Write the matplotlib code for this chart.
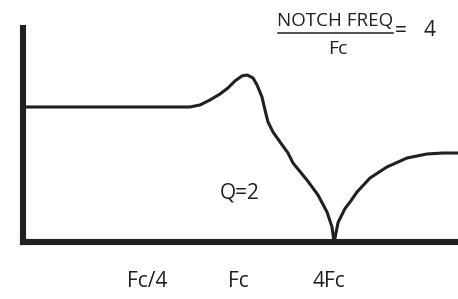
import matplotlib
matplotlib.use("Agg")
import matplotlib.pyplot as plt
from matplotlib.lines import Line2D

plt.rcParams['font.family'] = ['Open Sans', 'DejaVu Sans']

# Response curve, x in octaves relative to Fc, y relative to passband level
curve_left_x = [-4.725, -2.5, -1.495, -1.055, -0.835, -0.615, -0.396, -0.220, -0.066,
                0.088, 0.198, 0.330, 0.418, 0.527, 0.593, 0.659, 0.769, 0.923,
                1.099, 1.209, 1.516, 1.758, 1.956, 2.066, 2.110]
curve_left_y = [1.0, 1.0, 1.0, 1.0, 1.015, 1.052, 1.096, 1.141, 1.193,
                1.230, 1.237, 1.215, 1.163, 1.074, 0.978, 0.889, 0.815, 0.741,
                0.659, 0.585, 0.459, 0.348, 0.222, 0.111, 0.0]
curve_right_x = [2.110, 2.132, 2.198, 2.352, 2.462, 2.615, 2.901, 3.275, 3.714,
                 4.154, 4.505, 4.835]
curve_right_y = [0.0, 0.030, 0.144, 0.248, 0.296, 0.370, 0.474, 0.556, 0.622,
                 0.652, 0.659, 0.659]

tick_pos = [-2, 0, 2]
tick_labels = ["Fc/4", "Fc", "4Fc"]

W, H = 458, 299
fig = plt.figure(figsize=(W / 100, H / 100), dpi=100)
ax = fig.add_axes([23 / W, (H - 242) / H, (W - 23) / W, (242 - 28) / H])

ink = '#231f20'
ax.plot(curve_left_x + curve_right_x[1:], curve_left_y + curve_right_y[1:],
        color=ink, lw=2.2, solid_joinstyle='round', solid_capstyle='butt')

ax.set_xlim(-4.725, 4.835)
ax.set_ylim(0, 1.585)
for s in ['top', 'right']:
    ax.spines[s].set_visible(False)
for s in ['left', 'bottom']:
    ax.spines[s].set_linewidth(4.4)
    ax.spines[s].set_color(ink)
ax.set_yticks([])
ax.set_xticks(tick_pos)
ax.set_xticklabels(tick_labels, fontsize=15, color=ink)
ax.tick_params(axis='x', length=0, pad=21)

def px(x, y):
    return x / W, 1 - y / H

fig.text(*px(240, 193), "Q=2", ha='center', va='center', fontsize=15, color=ink)
fig.text(*px(335, 21), "NOTCH FREQ", ha='center', va='center', fontsize=13.5, color=ink)
fig.add_artist(Line2D([278 / W, 393 / W], [1 - 33 / H, 1 - 33 / H], color=ink, lw=1.1))
fig.text(*px(338, 49), "Fc", ha='center', va='center', fontsize=14, color=ink)
fig.text(*px(401, 31), "=", ha='center', va='center', fontsize=15, color=ink)
fig.text(*px(429, 31), "4", ha='center', va='center', fontsize=15, color=ink)

fig.savefig("out.png", dpi=100)
